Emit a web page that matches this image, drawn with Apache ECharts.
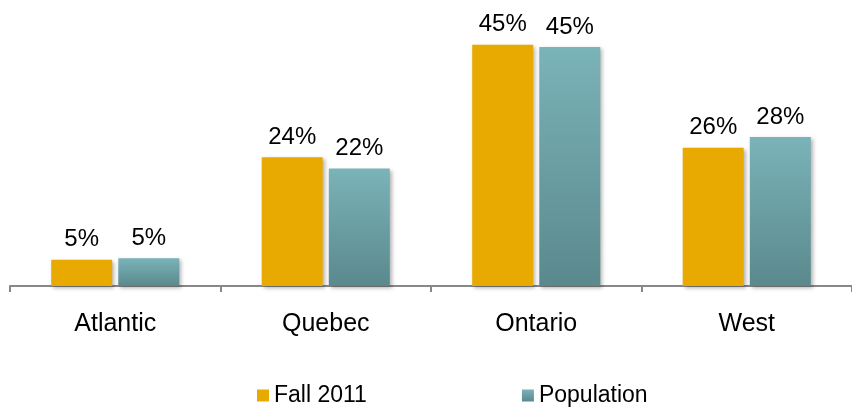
<!DOCTYPE html>
<html>
<head>
<meta charset="utf-8">
<script src="https://cdn.jsdelivr.net/npm/echarts@6/dist/echarts.min.js"></script>
<style>
  body { margin: 0; background: #fff; }
  #chart { width: 852px; height: 410px; }
</style>
</head>
<body>
<div id="chart"></div>
<script>
const categories = ['Atlantic', 'Quebec', 'Ontario', 'West']
const fallData = [4.9, 24.0, 45.0, 25.8]
const popData = [5.2, 21.9, 44.6, 27.8]
const legends = ['Fall 2011', 'Population']

const chart = echarts.init(document.getElementById('chart'))

const labelStyle = {
  show: true,
  position: 'top',
  distance: 8,
  color: '#000',
  fontSize: 24,
  fontFamily: 'Liberation Sans, Arial, sans-serif',
  formatter: p => Math.round(p.value) + '%'
}

const option = {
  animation: false,
  textStyle: { fontFamily: 'Liberation Sans, Arial, sans-serif' },
  legend: {
    data: legends,
    top: 384,
    left: 257,
    padding: 0,
    itemGap: 155,
    itemWidth: 12,
    itemHeight: 12,
    icon: 'rect',
    textStyle: { color: '#000', fontSize: 23, padding: [0, 0, 0, 0] }
  },
  grid: {
    top: 18,
    left: 10,
    right: 0,
    bottom: 124
  },
  xAxis: {
    type: 'category',
    data: categories,
    axisLine: { show: true, lineStyle: { color: '#888', width: 2 } },
    axisTick: { show: true, length: 6, lineStyle: { color: '#888', width: 2 } },
    axisLabel: { color: '#000', fontSize: 25, margin: 26 }
  },
  yAxis: {
    type: 'value',
    min: 0,
    max: 50,
    show: false,
    splitLine: { show: false }
  },
  series: [
    {
      name: 'Fall 2011',
      type: 'bar',
      data: fallData,
      barWidth: 61,
      barGap: '10%',
      itemStyle: {
        color: '#E8A900',
        shadowColor: 'rgba(0,0,0,0.3)',
        shadowBlur: 4,
        shadowOffsetX: 2,
        shadowOffsetY: 2
      },
      label: labelStyle
    },
    {
      name: 'Population',
      type: 'bar',
      data: popData,
      barWidth: 61,
      itemStyle: {
        color: new echarts.graphic.LinearGradient(0, 0, 0, 1, [
          { offset: 0, color: '#7AB3B8' },
          { offset: 1, color: '#5A898D' }
        ]),
        shadowColor: 'rgba(0,0,0,0.3)',
        shadowBlur: 4,
        shadowOffsetX: 2,
        shadowOffsetY: 2
      },
      label: labelStyle
    }
  ]
}

chart.setOption(option)
</script>
</body>
</html>
